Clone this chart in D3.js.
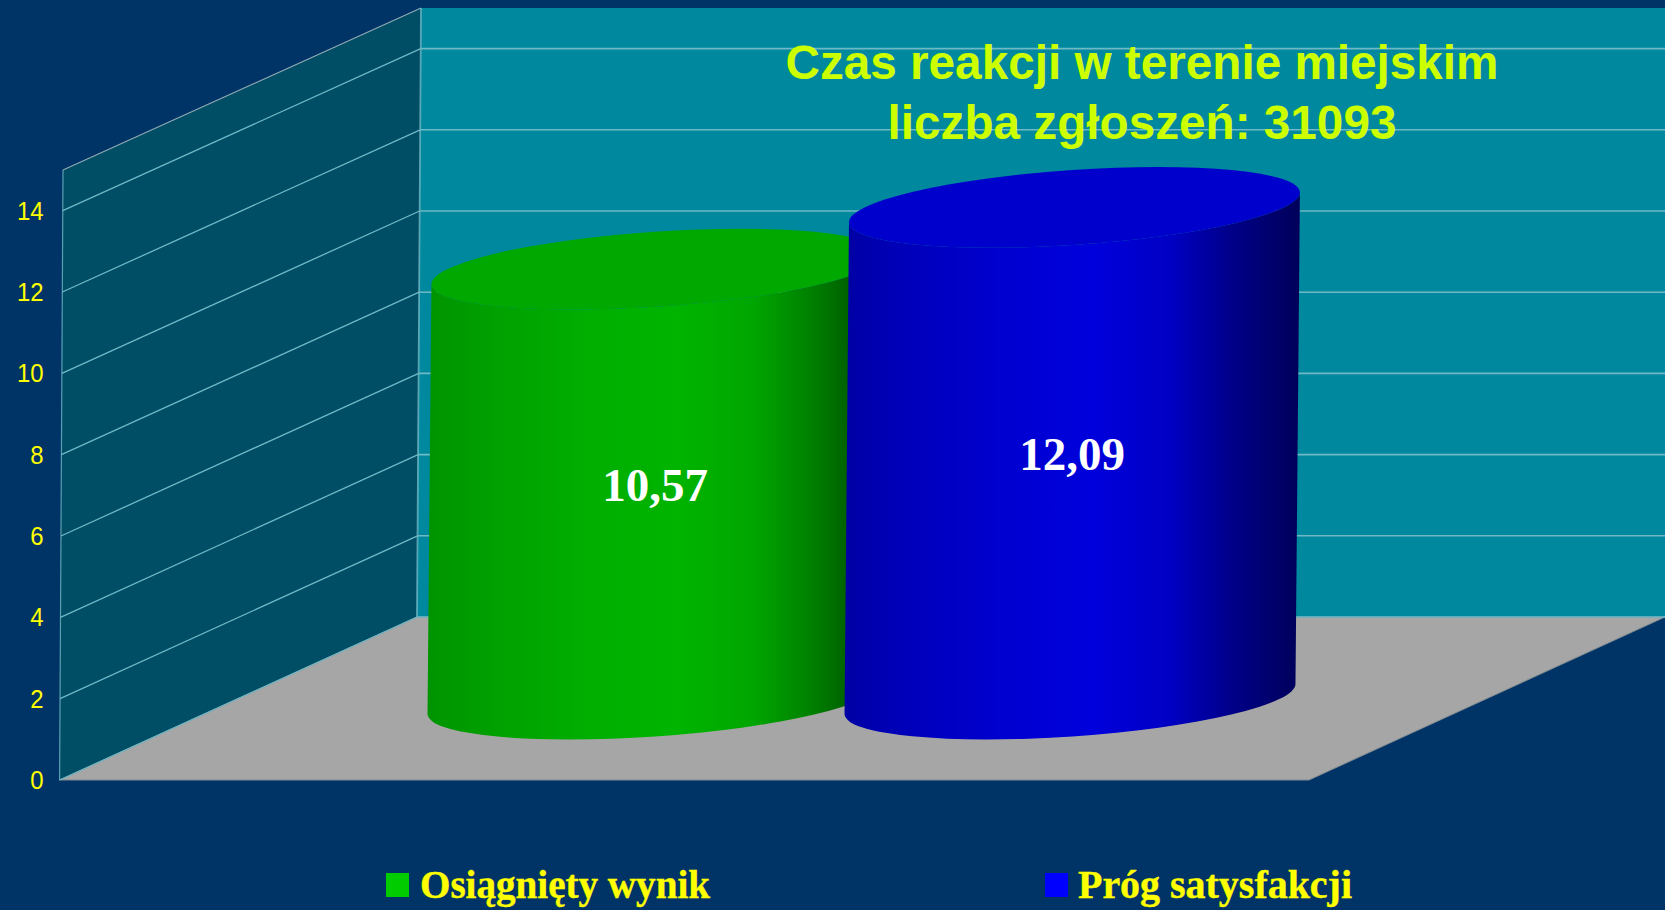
<!DOCTYPE html>
<html><head><meta charset="utf-8">
<script src="https://cdnjs.cloudflare.com/ajax/libs/d3/7.8.5/d3.min.js"></script>
<style>html,body{margin:0;padding:0;background:#003366;overflow:hidden}svg{display:block}</style>
</head><body><svg id="c" width="1665" height="910"></svg>
<script>
const categories = ["Osiągnięty wynik", "Próg satysfakcji"];
const values = [10.57, 12.09];
const valueLabels = ["10,57", "12,09"];
const tickValues = [0, 2, 4, 6, 8, 10, 12, 14];
const titleLines = ["Czas reakcji w terenie miejskim", "liczba zgłoszeń: 31093"];

const svg = d3.select("#c");
const W = 1665;
const domainMax = 15;
// three projected vertical scales: front edge, back wall, cylinder axis
const yFront = d3.scaleLinear().domain([0, domainMax]).range([780, 170]);
const yBack  = d3.scaleLinear().domain([0, domainMax]).range([617, 8]);
const yMid   = d3.scaleLinear().domain([0, domainMax]).range([699, 89]);
const xFront = d3.scaleLinear().domain([0, domainMax]).range([59.6, 63]);
const xBack  = d3.scaleLinear().domain([0, domainMax]).range([417, 421]);
const xCat   = d3.scaleBand().domain(categories).range([444.5, 1278.5]).paddingInner(0).paddingOuter(0);
const lean = d3.scaleLinear().domain([0, domainMax]).range([0, 5.5]);

const poly = pts => "M" + pts.map(p => p.join(",")).join("L") + "Z";
const gridCol = "#6fb9c6";

// walls and floor
svg.append("rect").attr("width", W).attr("height", 910).attr("fill", "#003366");
svg.append("path").attr("fill", "#00889f")
  .attr("d", poly([[xBack(domainMax), yBack(domainMax)], [W, yBack(domainMax)], [W, yBack(0)], [xBack(0), yBack(0)]]));
svg.append("path").attr("fill", "#004d66")
  .attr("d", poly([[xFront(domainMax), yFront(domainMax)], [xBack(domainMax), yBack(domainMax)], [xBack(0), yBack(0)], [xFront(0), yFront(0)]]));
svg.append("path").attr("fill", "#a6a6a6").attr("stroke", "#7f8a90").attr("stroke-width", 1)
  .attr("d", poly([[xFront(0), yFront(0)], [xBack(0), yBack(0)], [W, yBack(0)], [1309, yFront(0)]]));

// gridlines
const gridG = svg.append("g").attr("fill", "none").attr("stroke", gridCol);
tickValues.filter(v => v > 0).forEach(v => {
  gridG.append("line").attr("x1", xFront(v)).attr("y1", yFront(v)).attr("x2", xBack(v)).attr("y2", yBack(v)).attr("stroke-width", 1.3);
  gridG.append("line").attr("x1", xBack(v)).attr("y1", yBack(v)).attr("x2", W).attr("y2", yBack(v)).attr("stroke-width", 1.6);
});
gridG.append("line").attr("x1", xFront(domainMax)).attr("y1", yFront(domainMax)).attr("x2", xBack(domainMax)).attr("y2", yBack(domainMax)).attr("stroke", "#8fa9b3").attr("stroke-width", 1.2);
gridG.append("line").attr("x1", xFront(0)).attr("y1", yFront(0)).attr("x2", xFront(domainMax)).attr("y2", yFront(domainMax)).attr("stroke-width", 1.2).attr("opacity", .8);
gridG.append("line").attr("x1", xBack(0)).attr("y1", yBack(0)).attr("x2", xBack(domainMax)).attr("y2", yBack(domainMax)).attr("stroke-width", 1.8).attr("opacity", .8);
gridG.append("line").attr("x1", xFront(0)).attr("y1", yFront(0)).attr("x2", xBack(0)).attr("y2", yBack(0)).attr("stroke-width", 1.2);
gridG.append("line").attr("x1", xBack(0)).attr("y1", yBack(0)).attr("x2", W).attr("y2", yBack(0)).attr("stroke-width", 1.4);

// y tick labels
svg.append("g").selectAll("text").data(tickValues).join("text")
  .attr("transform", d => `translate(43.5,${yFront(d) + 9}) scale(.92,1.02)`)
  .attr("text-anchor", "end").attr("fill", "#ffff00")
  .attr("font-family", "'Liberation Sans',Arial,sans-serif").attr("font-size", 26)
  .text(d => d);

// cylinders
const palette = [
  { stops: [[0, "#009400"], [.12, "#009e00"], [.35, "#00ae00"], [.55, "#00b400"], [.72, "#00a600"], [.85, "#008000"], [.95, "#005c00"], [1, "#004f00"]], top: "#00a800", sw: "#00cc00" },
  { stops: [[0, "#0000a4"], [.12, "#0000b8"], [.35, "#0000d0"], [.55, "#0000dc"], [.72, "#0000c4"], [.86, "#000088"], [1, "#00005c"]], top: "#0000cc", sw: "#0000ff" }
];
const defs = svg.append("defs");
const rx = 226, ry = 37.5, rot = -3.9;
const ux = rx * Math.cos(rot * Math.PI / 180), uy = rx * Math.sin(rot * Math.PI / 180);
const cyl = svg.append("g");
categories.forEach((c, i) => {
  const cx0 = xCat(c) + xCat.bandwidth() / 2;
  const cy0 = yMid(0), cx1 = cx0 + lean(values[i]), cy1 = yMid(values[i]);
  const g = defs.append("linearGradient").attr("id", "g" + i)
    .attr("gradientUnits", "userSpaceOnUse").attr("x1", cx0 - rx).attr("x2", cx0 + rx).attr("y1", 0).attr("y2", 0);
  palette[i].stops.forEach(s => g.append("stop").attr("offset", s[0]).attr("stop-color", s[1]));
  const side = `M${cx1 - ux},${cy1 - uy}L${cx0 - ux},${cy0 - uy}`
    + `A${rx},${ry} ${rot} 0 0 ${cx0 + ux},${cy0 + uy}`
    + `L${cx1 + ux},${cy1 + uy}`
    + `A${rx},${ry} ${rot} 0 1 ${cx1 - ux},${cy1 - uy}Z`;
  cyl.append("path").attr("d", side).attr("fill", `url(#g${i})`);
  cyl.append("ellipse").attr("cx", 0).attr("cy", 0).attr("rx", rx).attr("ry", ry)
    .attr("transform", `translate(${cx1},${cy1}) rotate(${rot})`).attr("fill", palette[i].top);
});

// value labels
svg.append("g").selectAll("text").data(categories).join("text")
  .attr("x", (d, i) => xCat(d) + xCat.bandwidth() / 2 + 2)
  .attr("y", (d, i) => yMid(values[i] / 2) + 17)
  .attr("text-anchor", "middle").attr("fill", "#ffffff")
  .attr("font-family", "'Liberation Serif','Times New Roman',serif").attr("font-weight", "bold").attr("font-size", 47)
  .text((d, i) => valueLabels[i]);

// title
svg.append("g").selectAll("text").data(titleLines).join("text")
  .attr("x", 1142).attr("y", (d, i) => 79 + i * 60)
  .attr("text-anchor", "middle").attr("fill", "#ccff00")
  .attr("font-family", "'Liberation Sans',Arial,sans-serif").attr("font-weight", "bold").attr("font-size", 47.7)
  .text(d => d);

// legend
const legX = [386, 1045];
const legTextX = [420, 1078];
const legLen = [290, 274];
const leg = svg.append("g").selectAll("g").data(categories).join("g");
leg.append("rect").attr("x", (d, i) => legX[i]).attr("y", 873).attr("width", 23).attr("height", 24)
  .attr("fill", (d, i) => palette[i].sw);
leg.append("text").attr("x", (d, i) => legTextX[i]).attr("y", 898)
  .attr("textLength", (d, i) => legLen[i]).attr("lengthAdjust", "spacingAndGlyphs")
  .attr("fill", "#ffff00").attr("stroke", "#ffff00").attr("stroke-width", .4)
  .attr("font-family", "'Liberation Serif','Times New Roman',serif")
  .attr("font-weight", "bold").attr("font-size", 39).text(d => d);
</script></body></html>
